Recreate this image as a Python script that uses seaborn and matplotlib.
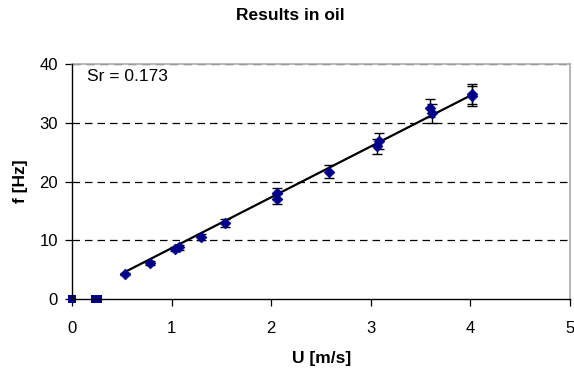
import matplotlib
matplotlib.use("Agg")
import matplotlib.pyplot as plt
import seaborn as sns
import pandas as pd

# ---- data ----
U_zero = [0.0, 0.23, 0.26]
f_zero = [0.0, 0.0, 0.0]

U = [0.53, 0.78, 1.03, 1.07, 1.30, 1.54, 2.06, 2.06, 2.58, 3.06, 3.08, 3.59, 3.61, 4.02, 4.02]
f = [4.3, 6.1, 8.5, 8.8, 10.6, 12.9, 18.0, 17.1, 21.7, 26.0, 26.9, 32.5, 31.6, 34.9, 34.5]
f_err = [0.2, 0.3, 0.4, 0.45, 0.5, 0.65, 0.9, 0.85, 1.1, 1.3, 1.35, 1.6, 1.6, 1.75, 1.7]

U_fit = [0.52, 4.02]
f_fit = [4.5, 34.8]

x_ticks = [0, 1, 2, 3, 4, 5]
y_ticks = [0, 10, 20, 30, 40]

title = "Results in oil"
xlabel = "U [m/s]"
ylabel = "f [Hz]"
annot = "Sr = 0.173"

# ---- style ----
sns.set_theme(style="white")
plt.rcParams['font.family'] = ['Liberation Sans', 'DejaVu Sans']

navy = "#00008B"

fig = plt.figure(figsize=(5.74, 3.70), dpi=100)
ax = fig.add_axes([72/574, 1-299/370, (570-72)/574, (299-64)/370])

df_pts = pd.DataFrame({"U": U, "f": f})
df_zero = pd.DataFrame({"U": U_zero, "f": f_zero})
df_fit = pd.DataFrame({"U": U_fit, "f": f_fit})

# gridlines
for yv in y_ticks[1:-1]:
    ax.axhline(yv, color="black", lw=0.9, ls=(0, (6, 4)), zorder=0.5)
ax.axhline(y_ticks[-1], color="#555555", lw=1.0, ls=(0, (6, 4)), zorder=0.5)

ax.errorbar(U, f, yerr=f_err, fmt="none", ecolor="black", elinewidth=1.0,
            capsize=3.5, capthick=1.0, zorder=2)
sns.lineplot(data=df_fit, x="U", y="f", ax=ax, color="black", lw=1.6, zorder=3)
sns.scatterplot(data=df_pts, x="U", y="f", ax=ax, marker="D", s=30,
                color=navy, edgecolor=navy, linewidth=0.5, zorder=4)
sns.scatterplot(data=df_zero, x="U", y="f", ax=ax, marker="s", s=30,
                color=navy, edgecolor=navy, linewidth=0, zorder=4, clip_on=False)

ax.set_xlim(0, 5)
ax.set_ylim(0, 40)
ax.set_xticks(x_ticks)
ax.set_yticks(y_ticks)
ax.set_xticklabels([str(v) for v in x_ticks])
ax.set_yticklabels([str(v) for v in y_ticks])
ax.tick_params(axis="both", which="major", direction="out", length=5, width=0.9,
               color="black", labelsize=12, labelcolor="black",
               bottom=True, left=True)
ax.tick_params(axis="x", pad=11)
ax.tick_params(axis="y", pad=5)
ax.set_xlabel("")
ax.set_ylabel("")

for side in ["left", "bottom"]:
    ax.spines[side].set_color("black")
    ax.spines[side].set_linewidth(1.0)
for side in ["top", "right"]:
    ax.spines[side].set_color("#AAAAAA")
    ax.spines[side].set_linewidth(1.2)
ax.spines["left"].set_zorder(5)
ax.spines["bottom"].set_zorder(5)

ax.text(0.15, 37.9, annot, fontsize=12.5, color="black", ha="left", va="center")

fig.text(290/574, 1-15.5/370, title, ha="center", va="center", fontsize=12.5,
         fontweight="bold", color="black")
fig.text(322/574, 1-358/370, xlabel, ha="center", va="center", fontsize=12.5,
         fontweight="bold", color="black")
fig.text(20/574, 1-181/370, ylabel, ha="center", va="center", fontsize=12.5,
         fontweight="bold", color="black", rotation=90)

fig.savefig("out.png", dpi=100, facecolor="white")
